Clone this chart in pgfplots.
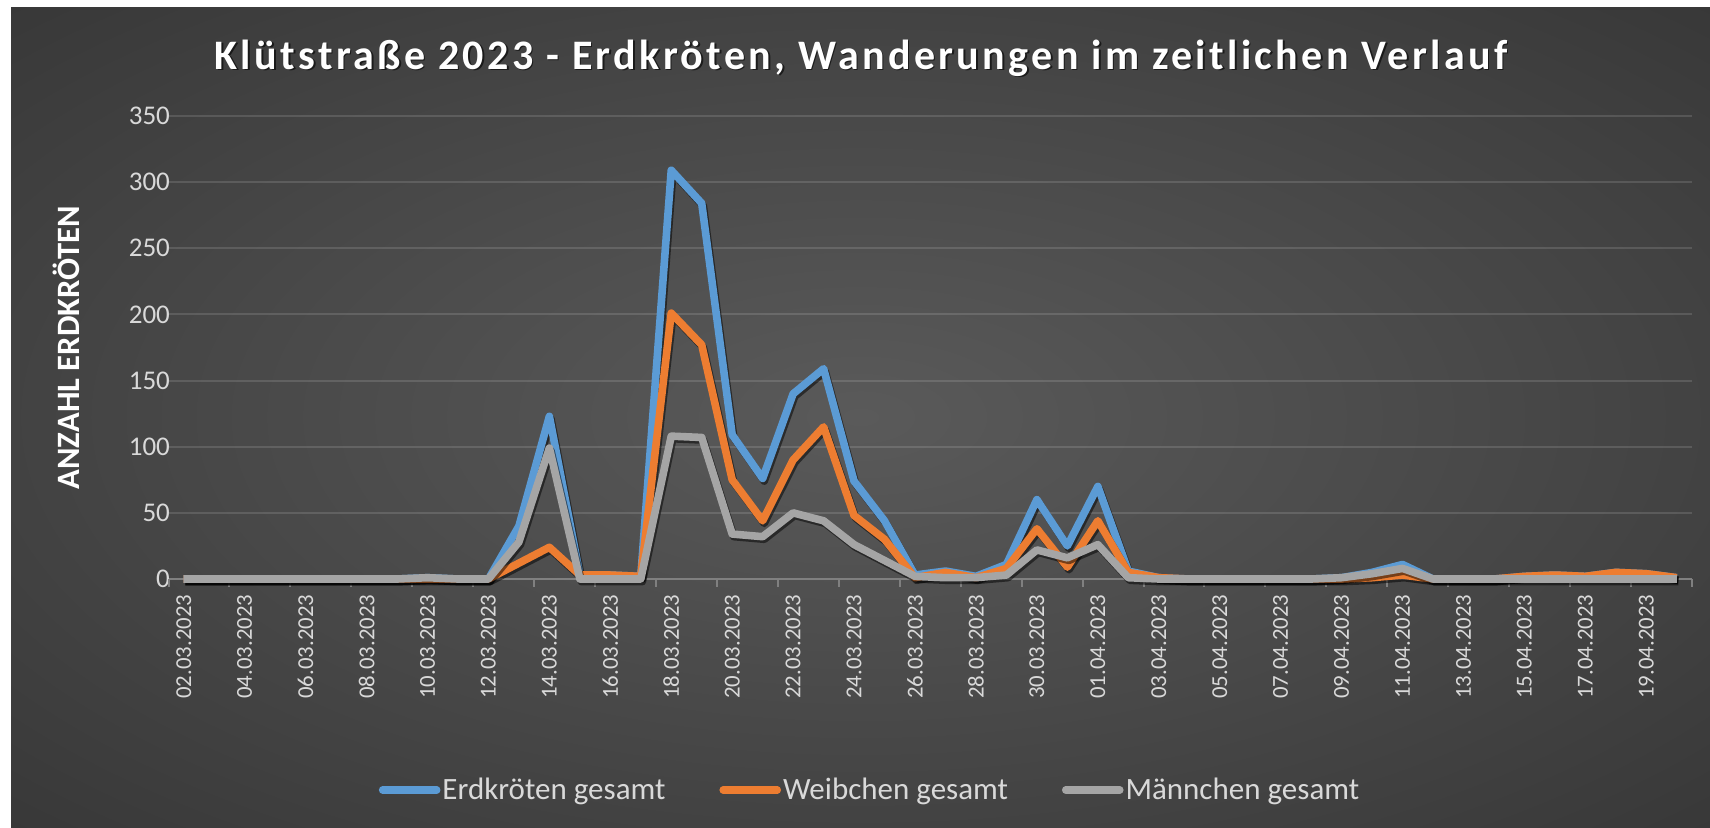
\documentclass[border=0pt]{standalone}
\usepackage{pgfplots}
\pgfplotsset{compat=1.18}
\usepackage{pgfplotstable}
\usepackage{fontspec}
\setmainfont{Carlito}
\newfontfamily\titlefont[LetterSpace=8]{Carlito}

\definecolor{cblue}{HTML}{5B9BD5}
\definecolor{corange}{HTML}{ED7D31}
\definecolor{cgray}{HTML}{A5A5A5}
\definecolor{axisc}{HTML}{808080}
\definecolor{txt}{HTML}{D9D9D9}
\definecolor{bgc}{HTML}{5A5A5A}
\definecolor{bgm}{HTML}{494949}
\definecolor{bge}{HTML}{2A2A2A}
\definecolor{bgz}{HTML}{222222}
\pgfdeclareradialshading{chartbg}{\pgfpoint{0bp}{0bp}}{color(0bp)=(bgc); color(18bp)=(bgm); color(50bp)=(bge); color(71bp)=(bgz)}

\pgfplotstableread{
i ges weib maen
0 0 0 0
1 0 0 0
2 0 0 0
3 0 0 0
4 0 0 0
5 0 0 0
6 0 0 0
7 0 0 0
8 1 0 1
9 0 0 0
10 0 0 0
11 40 12 28
12 123 24 99
13 3 3 0
14 3 3 0
15 2 2 0
16 309 201 108
17 284 177 107
18 109 75 34
19 76 44 32
20 140 90 50
21 159 115 44
22 74 48 26
23 44 30 14
24 3 1 2
25 6 5 1
26 2 1 1
27 11 8 3
28 60 38 22
29 25 9 16
30 70 44 26
31 6 5 1
32 1 1 0
33 0 0 0
34 0 0 0
35 0 0 0
36 0 0 0
37 0 0 0
38 1 0 1
39 5 1 4
40 11 3 8
41 0 0 0
42 0 0 0
43 0 0 0
44 2 2 0
45 3 3 0
46 2 2 0
47 5 5 0
48 4 4 0
49 1 1 0
}\data

\begin{document}%
\begin{tikzpicture}%
\fill[white] (0,0) rectangle (855pt,-413.5pt);
\fill[bgz] (5.5pt,-3.5pt) rectangle (855pt,-413.5pt);
\shade[shading=chartbg] (5.5pt,-3.5pt) rectangle (855pt,-413.5pt);

\node[font=\titlefont\bfseries\fontsize{21pt}{25pt}\selectfont, text=black, opacity=0.6] at (431.3pt,-29.8pt) {Klütstraße 2023 - Erdkröten, Wanderungen im zeitlichen Verlauf};
\node[font=\titlefont\bfseries\fontsize{21pt}{25pt}\selectfont, text=white] at (430.5pt,-29pt) {Klütstraße 2023 - Erdkröten, Wanderungen im zeitlichen Verlauf};

\begin{axis}[
  at={(84.25pt,-289.5pt)}, anchor=south west,
  scale only axis, width=761.75pt, height=231.5pt,
  xmin=-0.5, xmax=49.5, ymin=0, ymax=350,
  clip=false,
  axis x line*=bottom, axis y line*=left,
  x axis line style={draw=axisc, line width=1pt, -},
  y axis line style={draw=none},
  ytick={0,50,...,350},
  ymajorgrids, grid style={draw=white, opacity=0.13, line width=1pt},
  ytick style={draw=none},
  xtick={0,2,...,48},
  xticklabels={02.03.2023,04.03.2023,06.03.2023,08.03.2023,10.03.2023,12.03.2023,14.03.2023,16.03.2023,18.03.2023,20.03.2023,22.03.2023,24.03.2023,26.03.2023,28.03.2023,30.03.2023,01.04.2023,03.04.2023,05.04.2023,07.04.2023,09.04.2023,11.04.2023,13.04.2023,15.04.2023,17.04.2023,19.04.2023},
  xtick style={draw=none},
  extra x ticks={-0.5,1.5,...,49.5},
  extra x tick labels={},
  extra x tick style={xtick style={draw=axisc, line width=1pt}, major tick length=4pt, tick align=outside},
  tick align=outside,
  /pgf/number format/assume math mode=true,
  xticklabel style={rotate=90, anchor=east, text=txt, font=\fontsize{11.4pt}{13pt}\selectfont},
  yticklabel style={text=txt, font=\fontsize{13.5pt}{16pt}\selectfont, xshift=8.5pt},
  ylabel={ANZAHL ERDKRÖTEN},
  every axis y label/.style={at={(axis description cs:0,0.5)}, xshift=-51pt, rotate=90, anchor=center, font=\bfseries\fontsize{16.3pt}{19pt}\selectfont, text=white},
  legend columns=3,
  legend image code/.code={\draw[#1, line cap=round] (0pt,0pt) -- (27pt,0pt);},
  legend style={at={(axis description cs:0.4605,-0.4557)}, anchor=center, draw=none, fill=none, text=txt, font=\fontsize{15.5pt}{18pt}\selectfont, nodes={inner sep=1pt}, /tikz/every even column/.append style={column sep=26pt}},
  every axis plot/.append style={line width=3.8pt, line join=round, mark=none},
]
\addplot[black, opacity=0.5, forget plot, transform canvas={xshift=0.8pt, yshift=-1.3pt}] table[x=i, y=ges] {\data};
\addplot[cblue] table[x=i, y=ges] {\data};
\addlegendentry{Erdkröten gesamt}
\addplot[black, opacity=0.5, forget plot, transform canvas={xshift=0.8pt, yshift=-1.3pt}] table[x=i, y=weib] {\data};
\addplot[corange] table[x=i, y=weib] {\data};
\addlegendentry{Weibchen gesamt}
\addplot[black, opacity=0.5, forget plot, transform canvas={xshift=0.8pt, yshift=-1.3pt}] table[x=i, y=maen] {\data};
\addplot[cgray] table[x=i, y=maen] {\data};
\addlegendentry{Männchen gesamt}
\end{axis}
\pgfresetboundingbox
\useasboundingbox (0,0) rectangle (855pt,-413.5pt);
\end{tikzpicture}%
\end{document}
